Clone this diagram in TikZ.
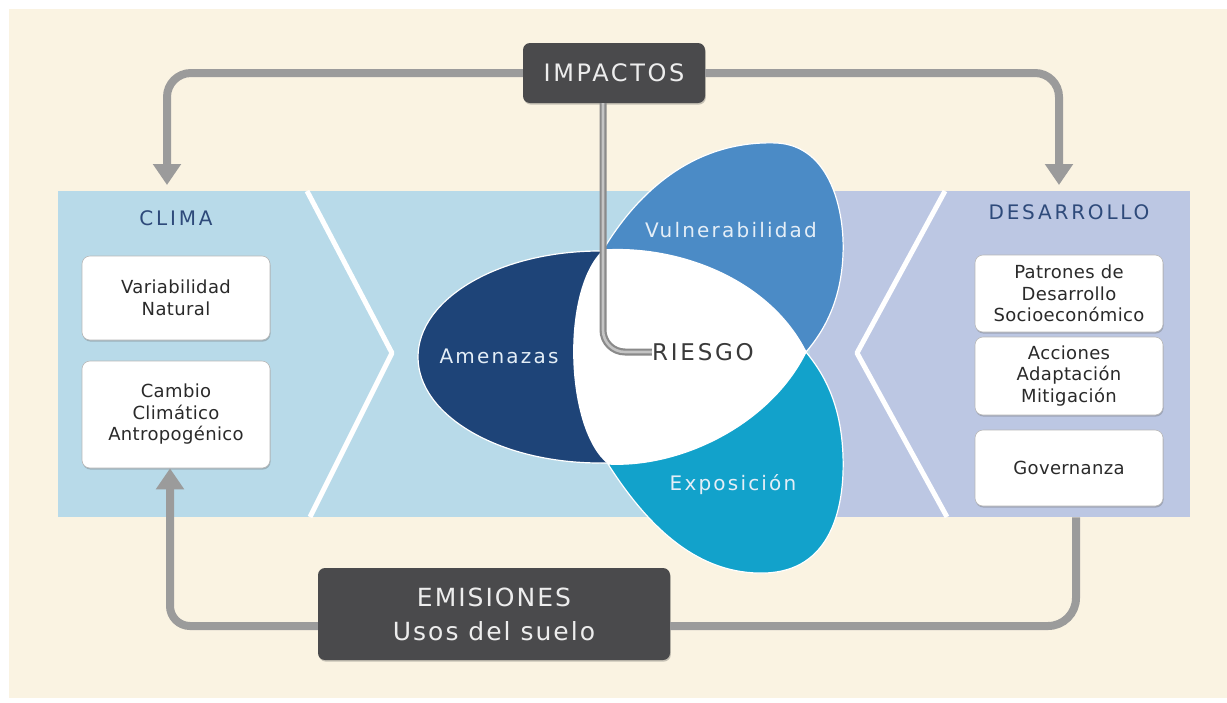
\documentclass[tikz,border=0pt]{standalone}
\usepackage{fontspec}
\setmainfont{DejaVu Sans}
\usetikzlibrary{arrows.meta,shadows}
\definecolor{cream}{HTML}{FAF3E2}
\definecolor{bandblue}{HTML}{B8DAE9}
\definecolor{bandlav}{HTML}{BCC7E3}
\definecolor{navy}{HTML}{1E4478}
\definecolor{vulblue}{HTML}{4B8BC6}
\definecolor{expblue}{HTML}{12A2CB}
\definecolor{darkfill}{HTML}{4A4A4C}
\definecolor{arrowgray}{HTML}{9B9B9B}
\definecolor{titleblue}{HTML}{2E4A7A}
\definecolor{boxtext}{HTML}{2A2A2A}
\definecolor{petaltext}{HTML}{E4EEF7}
\definecolor{riesgotext}{HTML}{3A3A3A}
\definecolor{pipeout}{HTML}{8A8A8A}
\definecolor{pipein}{HTML}{C4C4C4}
\begin{document}
\begin{tikzpicture}[x=1pt,y=-1pt,
  whitebox/.style={draw=black!28, line width=0.6pt, fill=white, rounded corners=8pt,
    minimum width=188pt, inner sep=0pt, align=center, text=boxtext,
    font=\fontsize{18}{21.5}\selectfont\addfontfeature{LetterSpace=2},
    drop shadow={shadow xshift=0.6pt, shadow yshift=-1.6pt, opacity=0.35, fill=black!60}},
  darkbox/.style={fill=darkfill, rounded corners=7pt, inner sep=0pt, align=center,
    text=white!93!black,
    drop shadow={shadow xshift=0.8pt, shadow yshift=-1.6pt, opacity=0.3, fill=black!70}},
  flow/.style={draw=arrowgray, line width=8pt, rounded corners=24pt},
  flowtip/.style={-{Triangle[width=27pt,length=21pt]}},
  petal/.style={draw=white, line width=1.2pt},
  chevron/.style={draw=white, line width=5pt, line join=round},
  bandtitle/.style={text=titleblue, inner sep=0pt,
    font=\fontsize{20}{24}\selectfont\addfontfeature{LetterSpace=14}},
  petallabel/.style={text=petaltext, inner sep=0pt,
    font=\fontsize{20}{24}\selectfont\addfontfeature{LetterSpace=11}},
  pipeo/.style={draw=pipeout, line width=7pt, rounded corners=22pt},
  pipei/.style={draw=pipein, line width=2.6pt, rounded corners=22pt},
]
\useasboundingbox (0,0) rectangle (1227,702);
% background
\fill[white] (0,0) rectangle (1227,702);
\fill[cream] (9,9) rectangle (1227,698);
% band
\fill[bandblue] (58,191) rectangle (810,517);
\fill[bandlav] (810,191) rectangle (1190,517);
\draw[chevron] (307,191) -- (392,353) -- (310,517);
\draw[chevron] (945,191) -- (857,353) -- (947,517);
% petals
\path[petal, fill=navy] (600,357) ellipse [x radius=182pt, y radius=106pt];
\path[petal, fill=vulblue] (603,250) .. controls (642,185) and (700,140) .. (777,143)
  .. controls (830,146) and (845,210) .. (843,255)
  .. controls (841,300) and (825,330) .. (806,352)
  .. controls (770,280) and (680,245) .. (603,250) -- cycle;
\path[petal, fill=expblue] (608,464) .. controls (650,530) and (700,575) .. (765,573)
  .. controls (830,571) and (845,510) .. (843,455)
  .. controls (841,405) and (825,375) .. (806,352)
  .. controls (770,425) and (680,468) .. (608,464) -- cycle;
\fill[white] (603,250) .. controls (680,245) and (770,280) .. (806,352)
  .. controls (770,425) and (680,468) .. (608,464)
  .. controls (565,430) and (560,290) .. (603,250) -- cycle;
% labels
\node[petallabel] (amen) at (499,356) {Amenazas};
\node[petallabel] (vul) at (731,230) {Vulnerabilidad};
\node[petallabel] (expo) at (733,485) {Exposición};
\node[text=riesgotext, inner sep=0pt, font=\fontsize{23}{27}\selectfont\addfontfeature{LetterSpace=12}] (riesgo) at (703,352) {RIESGO};
\node[bandtitle] (clima) at (176,218) {CLIMA};
\node[bandtitle] (desarrollo) at (1069,212) {DESARROLLO};
% white boxes
\node[whitebox, minimum height=84pt] (var) at (176,298) {Variabilidad\\Natural};
\node[whitebox, minimum height=107pt] (cambio) at (176,414.5) {Cambio\\Climático\\Antropogénico};
\node[whitebox, minimum height=77pt] (patrones) at (1069,293.5) {Patrones de\\Desarrollo\\Socioeconómico};
\node[whitebox, minimum height=78pt] (acciones) at (1069,376) {Acciones\\Adaptación\\Mitigación};
\node[whitebox, minimum height=76pt] (gov) at (1069,468) {Governanza};
% dark boxes
\node[darkbox, minimum width=182pt, minimum height=60pt,
  font=\fontsize{24}{28}\selectfont\addfontfeature{LetterSpace=11}] (impactos) at (614,73) {IMPACTOS};
% connectors
\coordinate (climain) at (167,185);
\coordinate (desin) at (1059,185);
\draw[flow, flowtip] (impactos.west) -| (climain);
\draw[flow, flowtip] (impactos.east) -| (desin);
\node[darkbox, minimum width=352pt, minimum height=92pt,
  font=\fontsize{25}{34}\selectfont\addfontfeature{LetterSpace=8}] (emisiones) at (494,614) {EMISIONES\\Usos del suelo};
\draw[flow, rounded corners=28pt, shorten <=11pt] ([xshift=7pt]gov.south) |- ([yshift=-12pt]emisiones.east);
\draw[flow, rounded corners=20pt, flowtip] ([yshift=-12pt]emisiones.west) -| ([xshift=-6pt]cambio.south);
\draw[pipeo] ([xshift=-11pt]impactos.south) |- (riesgo.west);
\draw[pipei] ([xshift=-11pt]impactos.south) |- (riesgo.west);
\end{tikzpicture}
\end{document}
